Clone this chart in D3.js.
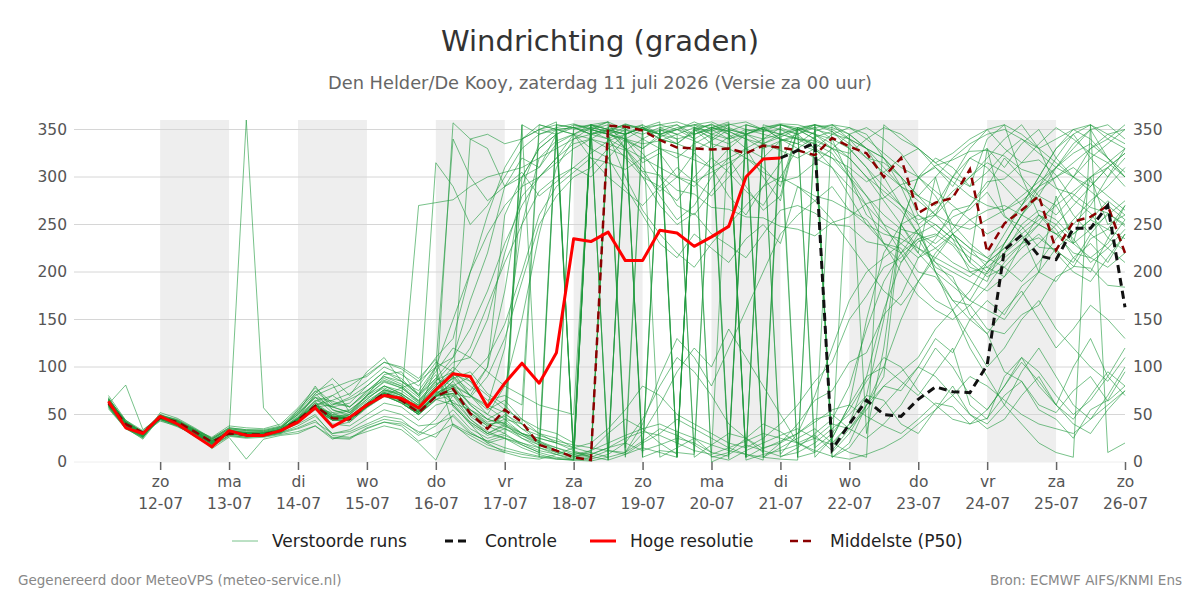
<!DOCTYPE html>
<html>
<head>
<meta charset="utf-8">
<script src="https://cdn.jsdelivr.net/npm/d3@7"></script>
<style>
  body { margin: 0; background: #fff; }
  text { font-family: "DejaVu Sans", sans-serif; }
</style>
</head>
<body>
<div id="chart"></div>
<script>
// tick labels for the x axis (one per day, 12-07 .. 26-07)
const dayNames = ["zo", "ma", "di", "wo", "do", "vr", "za", "zo", "ma", "di", "wo", "do", "vr", "za", "zo"];
const dayDates = ["12-07", "13-07", "14-07", "15-07", "16-07", "17-07", "18-07", "19-07", "20-07", "21-07", "22-07", "23-07", "24-07", "25-07", "26-07"];
const yTicks = [0, 50, 100, 150, 200, 250, 300, 350];

// 6-hourly values, first step is 11-07 06:00
const hogeResolutie = [64, 36, 30, 48, 40, 28, 16, 33, 28, 28, 33, 42, 57, 37, 47, 60, 70, 67, 57, 76,
  93, 90, 58, 83, 104, 83, 115, 235, 232, 242, 212, 212, 244, 241, 227, 237, 248, 300, 319, 320];

const middelste = [62, 40, 31, 47, 42, 32, 21, 30, 29, 29, 33, 44, 59, 46, 45, 60, 72, 65, 52, 69,
  77, 51, 35, 55, 42, 18, 12, 5, 2, 354, 353, 349, 339, 331, 330, 329, 330, 325, 333, 331,
  328, 323, 341, 332, 325, 300, 320, 262, 273, 278, 308, 221, 251, 265, 280, 223, 253, 258, 270, 220];

// controle only shows from step 39 (21-07 00:00)
const controleStart = 39;
const controle = [320, 328, 336, 13, 40, 65, 50, 48, 66, 79, 74, 73, 102, 223, 239, 217, 213, 246, 246, 270, 163];

// verstoorde runs (perturbed members)
const runs = [
  [66,37,27,48,42,32,18,33,27,31,35,55,75,60,68,80,95,85,70,88, 80,52,38,45,30,22,15,8,5,352,348,12,18,25,20,10,6,355,350,5, 15,30,45,80,140,190,220,235,240,228,205,198,215,230,236,222,210,240,262,250],
  [60,42,32,45,38,28,22,29,31,27,30,35,42,30,32,40,48,45,30,45, 70,45,30,40,25,18,12,6,3,8,20,45,80,110,95,70,40,25,14,22, 30,42,55,60,48,38,30,45,62,58,40,46,70,85,60,52,75,90,64,80],
  [58,36,26,50,44,34,24,35,33,32,36,52,80,55,50,66,80,72,60,78, 92,85,60,120,250,320,338,345,320,300,285,270,290,310,295,280,300,320,310,290, 350,340,330,320,300,285,270,255,260,300,320,310,290,270,300,330,345,320,300,330],
  [70,44,31,44,37,29,16,27,25,26,29,32,38,26,25,36,42,40,28,38, 55,35,25,30,18,10,355,5,12,30,45,35,20,8,350,355,10,25,40,32, 20,10,25,60,90,100,85,70,95,120,60,45,90,110,80,60,100,130,90,70],
  [64,40,28,49,43,31,19,30,360,57,36,45,60,48,47,61,73,68,55,70, 75,48,35,50,40,30,25,15,355,350,345,352,340,335,348,356,345,330,320,338, 345,352,355,340,320,315,300,260,250,235,200,190,230,260,280,270,240,255,275,260],
  [61,81,34,47,41,33,22,32,30,30,34,46,57,44,46,58,70,64,50,68, 85,60,45,55,300,330,345,5,350,355,15,350,345,8,352,340,355,5,348,350, 340,335,5,20,60,90,250,300,320,310,290,340,355,300,280,310,335,350,320,300],
  [56,35,25,52,46,36,25,36,34,34,38,55,74,82,52,70,85,78,64,82, 90,75,100,180,290,335,350,352,345,340,320,300,290,275,300,320,305,285,270,300, 330,342,348,330,310,280,265,240,230,245,270,290,320,300,260,240,250,270,300,320],
  [68,41,30,43,38,27,17,28,26,28,31,38,48,30,34,45,55,50,38,40, 48,30,22,28,20,12,8,2,350,358,10,22,35,28,18,6,2,12,20,28, 35,25,18,40,70,150,250,300,310,290,320,330,310,335,350,320,300,330,345,335],
  [62,38,29,48,41,31,21,32,30,29,33,45,59,47,46,60,72,65,52,69, 78,62,50,80,150,240,310,340,352,348,330,310,280,255,270,300,320,290,265,280, 352,345,340,300,260,245,230,215,225,240,210,195,205,225,240,220,200,190,215,240],
  [59,37,28,46,42,33,23,30,28,30,32,43,56,52,55,68,78,70,56,74, 88,95,72,60,40,20,355,352,345,352,5,350,348,355,340,350,8,345,340,352, 345,330,310,280,250,230,220,245,260,280,300,320,340,355,330,290,260,240,225,210],
  [65,43,32,49,40,30,19,34,30,28,35,47,64,38,42,57,69,63,50,66, 60,40,28,35,25,15,8,4,2,348,345,352,340,335,350,342,335,345,352,340, 335,348,355,352,345,320,290,250,200,170,150,135,160,180,150,120,140,165,150,130],
  [63,40,27,45,39,29,20,29,27,31,34,44,60,49,45,58,75,68,54,71, 80,70,55,65,45,30,20,350,355,345,338,330,342,350,345,352,348,340,335,342, 350,355,5,15,40,60,80,100,90,70,50,40,60,95,120,90,60,45,70,100],
  [57,36,24,47,43,34,26,38,36,35,40,57,78,62,58,72,88,80,65,85, 105,110,150,220,280,300,320,335,340,350,340,325,300,270,260,285,310,330,300,275, 350,352,340,330,310,290,270,250,265,285,300,315,305,290,275,260,280,300,310,290],
  [67,42,31,46,38,28,18,30,28,27,31,46,64,70,58,75,86,80,62,84, 62,42,30,38,28,18,10,5,8,15,25,32,28,20,12,8,15,22,30,25, 20,28,12,35,60,80,95,110,140,160,130,100,120,150,170,140,120,100,85,110],
  [60,39,30,48,42,32,21,31,29,30,33,45,58,46,47,61,73,66,53,70, 72,55,40,42,30,20,12,6,10,340,350,355,345,350,358,350,340,345,350,355, 352,5,25,60,150,220,250,260,245,230,215,200,220,250,265,255,235,210,225,245],
  [64,41,29,47,40,30,14,26,3,24,28,30,38,24,30,38,45,42,32,26, 50,32,20,25,15,8,3,2,355,2,8,15,10,5,352,0,8,18,12,6, 10,20,35,50,70,65,40,30,55,80,50,35,45,70,90,60,40,30,55,75],
  [61,38,28,49,44,33,22,33,31,31,34,46,62,50,48,62,76,70,56,72, 82,70,60,52,35,22,12,355,350,345,340,335,338,345,352,355,348,340,330,338, 342,335,325,300,280,260,245,240,225,210,200,205,220,235,250,240,220,215,230,255],
  [66,44,33,50,42,31,20,31,29,29,33,44,58,46,46,60,72,65,52,100, 150,200,240,270,290,300,315,330,340,335,328,340,350,345,338,330,342,350,345,340, 335,328,320,310,295,305,320,330,315,300,290,305,325,340,330,315,300,290,310,325],
  [62,40,30,47,40,31,21,31,29,29,33,44,58,46,46,60,72,65,60,80, 95,120,165,210,250,285,300,310,325,338,345,352,345,335,328,338,350,345,335,328, 320,330,345,352,340,325,310,300,285,270,255,240,250,270,290,310,325,335,320,305],
  [60,38,28,46,41,30,20,30,28,28,32,43,56,44,44,58,70,62,50,65, 80,90,110,145,200,260,290,305,320,315,308,320,330,325,318,310,320,330,340,345, 350,355,352,345,330,310,290,275,260,240,225,215,230,260,285,300,310,295,280,265],
  [63,41,31,48,41,32,22,32,30,30,34,45,60,48,47,62,74,66,54,70, 72,68,90,130,190,250,280,300,310,330,345,355,5,15,25,10,352,345,5,20, 30,45,50,35,25,40,60,90,120,100,70,55,80,110,95,70,50,65,90,120],
  [64,39,29,47,41,31,21,31,29,29,33,44,58,46,46,60,72,65,270,273, 276,290,300,305,310,320,330,340,345,350,330,305,285,300,325,310,280,260,290,315, 352,355,348,335,320,305,290,280,300,320,335,345,350,340,325,310,330,350,355,340],
  [59,37,27,45,39,30,20,30,28,28,32,42,55,44,44,58,70,62,50,315, 290,250,270,300,330,345,352,356,350,345,340,350,355,358,352,345,340,348,352,355, 350,340,20,40,90,160,210,240,250,235,220,210,225,245,260,250,230,215,205,220],
  [62,40,31,48,42,33,21,32,30,30,34,45,58,46,46,60,72,65,52,69, 357,340,345,335,340,350,355,352,345,348,356,350,345,352,355,358,350,345,352,356, 355,350,345,340,330,320,300,280,270,300,330,350,355,345,330,340,350,355,345,350],
  [65,42,31,47,40,30,20,31,29,29,33,44,58,46,46,60,72,65,52,69, 85,340,330,290,300,310,345,10,8,15,20,12,352,345,5,18,30,25,10,355, 348,15,30,55,85,110,100,75,60,45,40,55,80,105,85,60,45,70,95,80],
  [61,39,28,48,43,32,22,32,30,30,33,46,60,48,47,61,73,66,53,70, 90,70,50,40,340,350,358,2,355,350,345,352,358,5,352,348,355,358,350,345, 340,338,330,325,340,352,345,330,315,325,340,350,330,315,335,352,340,325,315,300],
  [63,38,27,46,41,31,20,31,29,29,33,46,72,88,70,95,110,85,75,100, 340,300,275,290,305,280,295,310,300,320,290,260,230,215,240,225,210,235,250,230, 290,275,255,230,205,180,165,190,215,240,225,205,195,230,260,245,215,200,235,270],
  [60,36,26,47,43,34,23,33,31,30,34,48,65,58,62,80,95,88,70,92, 60,40,20,10,355,5,350,8,355,2,352,10,350,5,355,345,3,350,10,340, 5,350,15,345,30,120,250,220,300,240,210,330,260,240,200,280,230,300,250,260],
  [66,40,29,45,39,30,19,30,28,28,31,36,44,25,24,35,42,38,22,30, 40,25,15,10,5,3,8,15,20,35,55,80,70,50,40,30,20,15,25,40, 60,85,105,150,175,205,215,235,205,195,155,135,95,85,55,45,25,55,65,95],
  [61,39,29,48,42,32,21,31,29,30,33,45,60,65,72,85,100,92,80,105, 95,70,100,260,300,330,345,352,355,358,330,300,270,250,262,240,228,215,240,265, 270,262,250,248,232,228,210,232,238,258,266,284,258,248,226,224,206,204,186,184],
  [64,41,30,47,41,30,20,32,30,31,35,52,68,58,52,70,80,72,58,75, 62,55,45,38,30,25,20,12,5,350,355,5,12,10,8,352,348,355,5,15, 25,35,20,10,5,355,340,330,310,295,280,270,265,275,290,300,315,330,340,355],
  [59,36,27,48,44,35,25,36,34,33,37,50,68,52,42,58,70,78,85,100, 110,170,220,290,320,310,335,345,330,320,340,315,325,300,290,310,330,320,305,295, 300,315,330,345,352,340,325,300,280,250,230,215,205,190,210,235,255,275,290,310],
  [62,38,28,46,40,31,20,31,29,29,33,43,56,40,38,50,62,58,44,60, 65,45,32,25,18,10,5,3,350,345,352,5,350,340,10,352,345,5,350,8, 30,70,120,170,200,215,230,245,200,160,120,90,60,40,20,10,5,355,340,330],
  [65,42,31,48,42,32,22,32,31,30,34,46,62,58,52,66,80,75,62,80, 100,85,70,55,45,35,30,20,350,10,340,330,345,5,350,335,330,345,352,340, 330,320,310,290,270,250,240,220,200,185,170,160,150,175,200,225,240,255,245,235],
  [67,43,30,45,39,29,17,28,26,27,30,44,60,44,50,70,92,95,70,100, 38,28,18,12,8,5,3,2,5,12,8,20,30,45,35,25,15,8,2,355, 350,345,335,320,300,275,250,225,210,200,190,180,195,215,230,250,270,290,310,325],
  [60,38,28,47,41,30,21,30,28,29,33,44,58,60,66,75,90,82,68,88, 110,140,180,230,270,300,320,345,355,350,345,352,355,350,355,352,356,350,348,355, 5,10,355,345,330,300,270,240,210,190,170,200,230,260,290,320,345,355,10,20],
  [62,40,30,48,42,33,22,33,31,30,34,45,60,48,50,64,76,70,56,73, 80,60,45,40,30,25,20,15,10,5,350,340,330,320,335,345,352,5,15,20, 40,65,75,105,115,155,175,215,235,265,270,295,298,315,318,302,276,262,236,222],
  [63,39,28,46,40,31,21,31,29,29,33,44,58,46,46,60,72,65,52,69, 72,50,38,30,355,345,350,352,348,340,330,320,310,300,295,305,315,325,335,345, 352,345,330,305,280,250,220,190,170,160,180,210,240,270,300,330,350,340,320,300],
  [61,40,29,47,42,32,21,32,30,30,33,40,50,28,26,32,38,34,20,2, 40,30,22,15,10,6,4,2,1,5,10,30,60,95,120,100,140,110,80,50, 20,12,6,3,8,15,25,40,55,70,90,80,65,50,40,35,30,45,60,75],
  [64,41,30,48,41,31,20,31,29,29,33,44,58,70,80,92,105,98,85,110, 130,200,260,310,340,355,350,345,340,330,322,306,302,286,282,268,266,258,257,248, 245,238,252,258,272,278,292,298,312,318,327,328,322,308,302,288,282,268,262,248],
  [66,42,31,46,40,30,19,30,28,28,32,43,56,44,44,58,70,62,50,66, 70,52,40,35,28,20,15,10,6,2,355,350,345,340,345,350,355,2,8,12, 18,25,40,35,55,80,75,100,130,115,150,170,155,185,200,190,215,230,210,240],
  [58,35,26,49,45,35,24,35,33,33,37,53,72,55,48,62,76,72,60,78, 88,70,58,45,40,350,345,355,352,348,355,352,345,350,340,5,10,355,350,345, 340,330,320,300,270,230,200,175,160,150,165,185,210,230,250,275,300,320,335,350],
  [63,40,29,47,41,31,20,31,29,29,33,44,58,46,46,60,72,65,52,69, 78,55,42,48,35,28,22,18,15,12,10,40,90,130,110,80,120,160,200,240, 260,275,290,265,255,230,225,200,195,170,165,140,135,155,165,195,205,235,245,270],
  [62,39,29,48,42,33,21,32,30,30,34,45,60,50,54,70,84,78,64,86, 95,80,65,70,60,355,350,345,352,358,350,345,352,355,345,352,358,5,355,350, 345,355,10,30,60,100,150,190,220,240,255,265,270,260,250,240,230,245,260,275],
  [65,42,30,46,40,30,19,30,28,28,32,50,70,78,85,90,105,100,88,108, 58,42,30,25,20,15,10,8,12,20,28,35,40,32,25,18,12,8,5,3, 2,355,350,340,330,320,300,280,260,250,245,255,265,280,295,310,300,285,270,255],
  [60,37,27,47,43,34,24,34,32,32,36,50,68,64,58,74,90,85,72,95, 120,110,95,80,70,60,55,50,350,345,300,265,240,220,205,230,250,270,290,300, 290,280,275,265,250,240,235,225,215,205,195,210,225,240,255,270,285,300,315,330]
];

// Set chart dimensions
let margin = { top: 120, right: 75, bottom: 138, left: 74 },
  width = 1200 - margin.left - margin.right,
  height = 600 - margin.top - margin.bottom;

// time of step i
const stepMs = 6 * 3600 * 1000;
const firstStep = Date.UTC(2026, 6, 11, 6);
const timeAt = i => new Date(firstStep + i * stepMs);
const dayTicks = dayDates.map((d, i) => new Date(Date.UTC(2026, 6, 12 + i)));

let x = d3.scaleUtc()
  .domain([new Date(Date.UTC(2026, 6, 10, 18)), new Date(Date.UTC(2026, 6, 26, 0))])
  .range([0, width]);
let y = d3.scaleLinear().domain([0, 360]).range([height, 0]);

let svg = d3.select("#chart").append("svg")
  .attr("width", 1200)
  .attr("height", 600);

// titles
svg.append("text").attr("x", 600).attr("y", 51).attr("text-anchor", "middle")
  .style("font-size", "29px").style("fill", "#333").text("Windrichting (graden)");
svg.append("text").attr("x", 600).attr("y", 89).attr("text-anchor", "middle")
  .style("font-size", "17.8px").style("fill", "#666")
  .text("Den Helder/De Kooy, zaterdag 11 juli 2026 (Versie za 00 uur)");

let chart = svg.append("g")
  .attr("transform", "translate(" + margin.left + "," + margin.top + ")");

// shaded alternate days
chart.selectAll(".band")
  .data(dayTicks.filter((d, i) => i % 2 === 0 && i < dayTicks.length - 1))
  .enter().append("rect")
  .attr("class", "band")
  .attr("x", d => x(d))
  .attr("y", 0)
  .attr("width", d => x(new Date(+d + 24 * 3600 * 1000)) - x(d))
  .attr("height", height)
  .style("fill", "#eeeeee");

// horizontal grid
chart.selectAll(".grid")
  .data(yTicks)
  .enter().append("line")
  .attr("class", "grid")
  .attr("x1", 0).attr("x2", width)
  .attr("y1", d => y(d)).attr("y2", d => y(d))
  .style("stroke", d => d === 0 ? "#eeeeee" : "#d6d6d6")
  .style("stroke-width", 1);

// y axes left and right
let yLeft = chart.append("g").call(d3.axisLeft(y).tickValues(yTicks).tickSize(0).tickPadding(7));
let yRight = chart.append("g").attr("transform", "translate(" + width + ",0)")
  .call(d3.axisRight(y).tickValues(yTicks).tickSize(0).tickPadding(8));
[yLeft, yRight].forEach(function (g) {
  g.select(".domain").remove();
  g.selectAll("text").style("font-size", "15.5px").style("fill", "#555")
    .style("font-family", "DejaVu Sans, sans-serif");
});

// x axis with two-line labels
let xAxis = chart.append("g")
  .attr("transform", "translate(0," + height + ")")
  .call(d3.axisBottom(x).tickValues(dayTicks).tickSize(8).tickFormat(""));
xAxis.select(".domain").remove();
xAxis.selectAll(".tick line").style("stroke", "#666").style("stroke-width", 1.5);
xAxis.selectAll(".tick").each(function (d, i) {
  let g = d3.select(this);
  g.append("text").attr("y", 25).attr("fill", "#555").style("font-size", "15.5px")
    .attr("text-anchor", "middle").text(dayNames[i]);
  g.append("text").attr("y", 47).attr("fill", "#555").style("font-size", "15.5px")
    .attr("text-anchor", "middle").text(dayDates[i]);
});

// line generator
let line = d3.line()
  .defined(d => d.v != null)
  .x(d => x(d.t))
  .y(d => y(d.v));
const toPoints = (arr, start) => arr.map((v, i) => ({ t: timeAt(i + (start || 0)), v: v }));

// ensemble members
chart.selectAll(".run")
  .data(runs)
  .enter().append("path")
  .attr("class", "run")
  .attr("d", d => line(toPoints(d)))
  .style("fill", "none")
  .style("stroke", "#1e9a3c")
  .style("stroke-opacity", 0.6)
  .style("stroke-width", 1);

// P50
chart.append("path")
  .datum(toPoints(middelste))
  .attr("d", line)
  .style("fill", "none").style("stroke", "#8b0000")
  .style("stroke-width", 2.5).style("stroke-dasharray", "8,5");

// controle
chart.append("path")
  .datum(toPoints(controle, controleStart))
  .attr("d", line)
  .style("fill", "none").style("stroke", "#111")
  .style("stroke-width", 3).style("stroke-dasharray", "8,5");

// hoge resolutie
chart.append("path")
  .datum(toPoints(hogeResolutie))
  .attr("d", line)
  .style("fill", "none").style("stroke", "#ff0000")
  .style("stroke-width", 3).style("stroke-linejoin", "round");

// legend
const legendItems = [
  { label: "Verstoorde runs", x: 232, color: "#1e9a3c", w: 1, dash: null, op: 0.6 },
  { label: "Controle", x: 445, color: "#111", w: 3, dash: "8,5", op: 1 },
  { label: "Hoge resolutie", x: 590, color: "#ff0000", w: 3, dash: null, op: 1 },
  { label: "Middelste (P50)", x: 790, color: "#8b0000", w: 2.5, dash: "8,5", op: 1 }
];
let legend = svg.append("g").attr("transform", "translate(0,541)");
legendItems.forEach(function (d) {
  legend.append("line")
    .attr("x1", d.x).attr("x2", d.x + 26).attr("y1", 0).attr("y2", 0)
    .style("stroke", d.color).style("stroke-width", d.w)
    .style("stroke-opacity", d.op)
    .style("stroke-dasharray", d.dash);
  legend.append("text")
    .attr("x", d.x + 40).attr("y", 6)
    .style("font-size", "17px").style("fill", "#222")
    .text(d.label);
});

// footer
svg.append("text").attr("x", 18).attr("y", 585)
  .style("font-size", "13.5px").style("fill", "#888")
  .text("Gegenereerd door MeteoVPS (meteo-service.nl)");
svg.append("text").attr("x", 1182).attr("y", 585).attr("text-anchor", "end")
  .style("font-size", "13.5px").style("fill", "#888")
  .text("Bron: ECMWF AIFS/KNMI Ens");
</script>
</body>
</html>
